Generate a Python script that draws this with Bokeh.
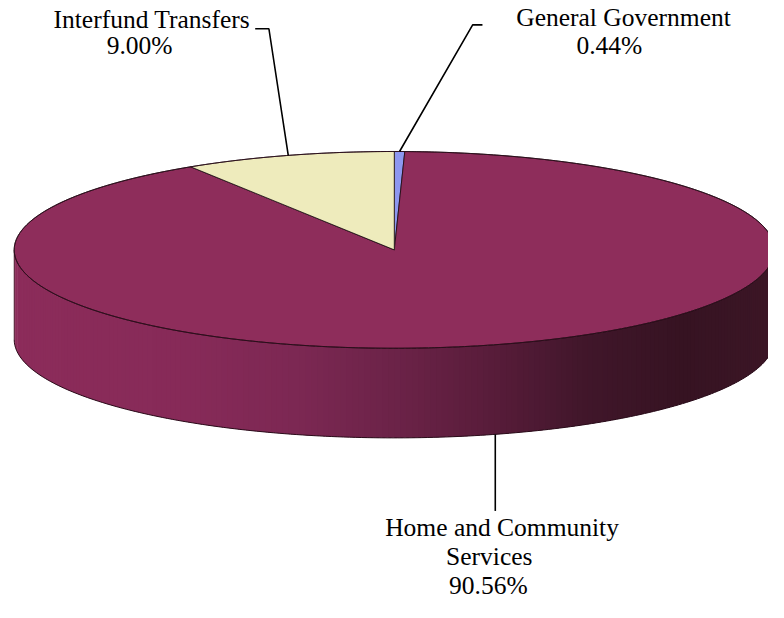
import numpy as np
from bokeh.plotting import figure
from bokeh.embed import file_html
from bokeh.resources import INLINE
from bokeh.core.properties import value

# ---- data ----
categories = ["General Government", "Home and Community Services", "Interfund Transfers"]
percents = [0.44, 90.56, 9.00]
pct_labels = ["0.44%", "90.56%", "9.00%"]
label_lines = [["General Government"], ["Home and Community", "Services"], ["Interfund Transfers"]]
colors = ["#8D97F0", "#8E2D5B", "#EEEBBC"]

# ---- geometry / style ----
CX, CY, RX, RY, DEPTH = 402, 256, 388, 101, 92
FONT = value("Liberation Serif")
FS = "25.5px"

p = figure(width=768, height=602, x_range=(0, 784), y_range=(618, 0),
           output_backend="svg", toolbar_location=None, min_border=0)
p.axis.visible = False
p.grid.visible = False
p.outline_line_color = None
p.background_fill_color = "white"


def ell(theta_deg, dy=0.0):
    t = np.radians(theta_deg)
    return CX + RX * np.cos(t), CY - RY * np.sin(t) + dy


# slice angles, clockwise from 12 o'clock
starts, ends = [], []
a = 90.0
for pc in percents:
    starts.append(a)
    a = a - 360.0 * pc / 100.0
    ends.append(a)
mids = [(s + e) / 2 for s, e in zip(starts, ends)]

# ---- side wall (front half) with gradient ----
ANCH = [(0.0, (140, 44, 90)), (0.24, (134, 42, 88)), (0.37, (124, 40, 83)),
        (0.5, (108, 35, 72)), (0.63, (88, 28, 58)), (0.755, (64, 22, 42)),
        (0.88, (54, 19, 34)), (1.0, (60, 22, 38))]


def side_color(t):
    for (t0, c0), (t1, c1) in zip(ANCH[:-1], ANCH[1:]):
        if t <= t1:
            f = (t - t0) / (t1 - t0)
            c = [int(round(c0[k] + f * (c1[k] - c0[k]))) for k in range(3)]
            return "#%02x%02x%02x" % tuple(c)
    return "#%02x%02x%02x" % ANCH[-1][1]


N = 200
angs = np.linspace(180, 360, N + 1)
xs, ys, cs = [], [], []
for i in range(N):
    a0, a1 = angs[i], min(angs[i + 1] + 0.6, 360)
    x0, y0 = ell(a0)
    x1, y1 = ell(a1)
    xs.append([x0, x1, x1, x0])
    ys.append([y0, y1, y1 + DEPTH, y0 + DEPTH])
    xm, _ = ell((angs[i] + angs[i + 1]) / 2)
    cs.append(side_color((xm - (CX - RX)) / (2 * RX)))
p.patches(xs, ys, fill_color=cs, line_color=None)

# side outline
ta = np.linspace(180, 360, 200)
bx, by = ell(ta, DEPTH)
p.line(list(bx), list(by), line_color="#2a0c1a", line_width=1)
lx, ly = ell(np.array([180.0]))
p.line([lx[0], lx[0]], [ly[0], ly[0] + DEPTH], line_color="#3a1020", line_width=0.8)

# ---- top faces ----
for s, e, col in zip(starts, ends, colors):
    n = max(4, int(abs(s - e) * 2))
    th = np.linspace(s, e, n)
    px, py = ell(th)
    p.patch([CX] + list(px) + [CX], [CY] + list(py) + [CY],
            fill_color=col, line_color="#1a0a10", line_width=0.8)

# top rim outline
fa = np.linspace(0, 360, 400)
fx, fy = ell(fa)
p.line(list(fx), list(fy), line_color="#2a0c1a", line_width=0.9)

# ---- leader lines ----
gx, gy = ell(mids[0])
p.line([gx, 482, 492], [gy, 25, 25], line_color="black", line_width=1.6)
ix, iy = ell(mids[2])
p.line([ix, 274, 260], [iy, 29, 29], line_color="black", line_width=1.6)
hx, hy = ell(mids[1], DEPTH)
p.line([hx, hx], [hy, 524], line_color="black", line_width=1.6)

# ---- labels ----
txt_x = [636, 621.5, 154.5, 142, 512, 499, 498]
txt_y = [17, 46, 19, 46, 541, 571, 601]
txts = [label_lines[0][0], pct_labels[0], label_lines[2][0], pct_labels[2],
        label_lines[1][0], label_lines[1][1], pct_labels[1]]
p.text(x=txt_x, y=txt_y, text=txts, text_font=FONT, text_font_size=FS,
       text_align="center", text_baseline="alphabetic", text_color="black")

open("out.html", "w").write(file_html(p, INLINE))
